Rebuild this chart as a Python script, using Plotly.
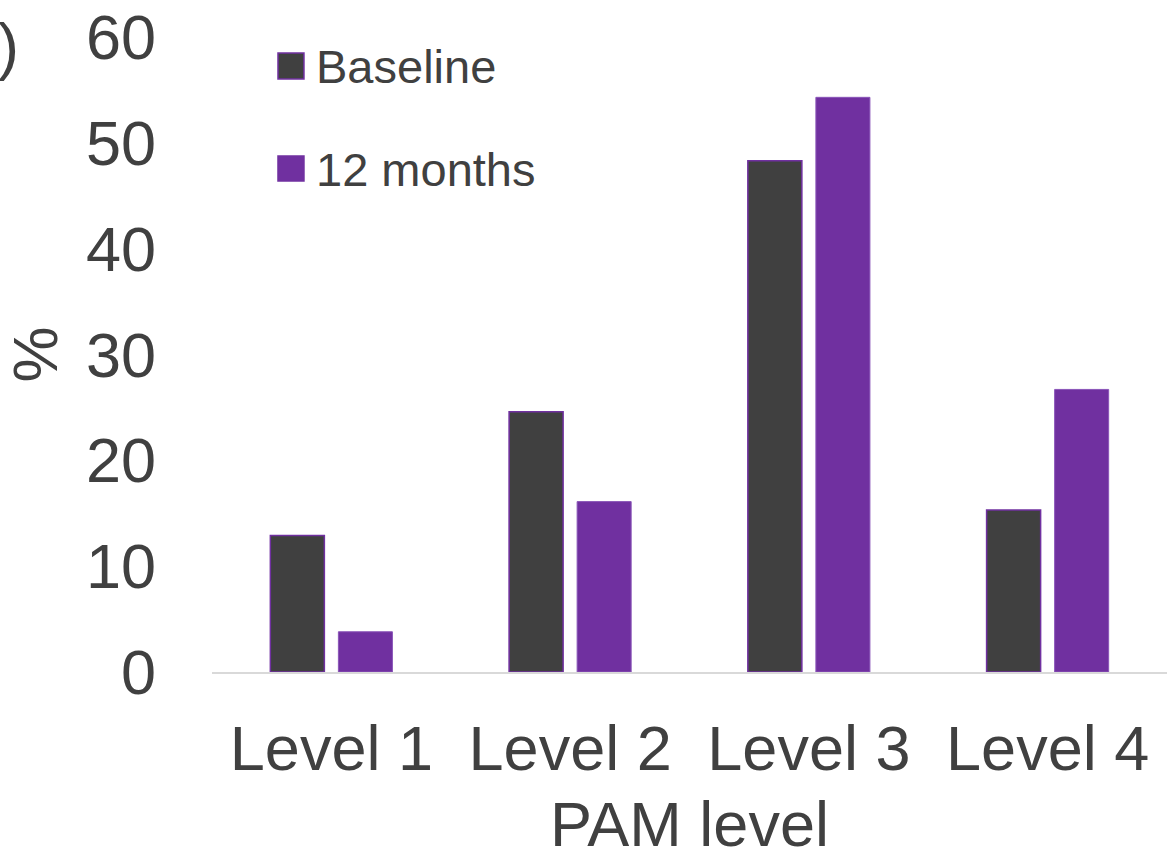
import plotly.graph_objects as go

# PAM level distribution at baseline and at 12 months
levels = ["Level 1", "Level 2", "Level 3", "Level 4"]
baseline = [12.9, 24.6, 48.3, 15.3]
months_12 = [3.8, 16.1, 54.3, 26.7]
series_names = ["Baseline", "12 months"]
y_ticks = [0, 10, 20, 30, 40, 50, 60]

DARK = "#404040"
PURPLE = "#7030A0"
TEXT = "#404040"
FONT = "Liberation Sans, Arial, sans-serif"
BIG = 63

fig = go.Figure()
fig.add_trace(go.Bar(
    x=levels, y=baseline, name=series_names[0],
    marker=dict(color=DARK, line=dict(color=PURPLE, width=1.5)),
    showlegend=False,
))
fig.add_trace(go.Bar(
    x=levels, y=months_12, name=series_names[1],
    marker=dict(color=PURPLE, line=dict(color="#8a55b8", width=1)),
    showlegend=False,
))

# Legend drawn as swatches + labels in the upper-left of the plot area
swatches = [
    (series_names[0], DARK, PURPLE, 0.9339, 0.9748, 0.9543),
    (series_names[1], PURPLE, PURPLE, 0.7732, 0.8126, 0.7921),
]
for label, fill, edge, y0, y1, ym in swatches:
    fig.add_shape(type="rect", xref="paper", yref="paper",
                  x0=0.0691, x1=0.0963, y0=y0, y1=y1,
                  fillcolor=fill, line=dict(color=edge, width=1.5))
    fig.add_annotation(xref="paper", yref="paper", x=0.1068, y=ym,
                       xanchor="left", yanchor="middle", showarrow=False,
                       text=label, font=dict(size=47, color=TEXT, family=FONT))

# Closing bracket of the panel label at the top-left corner
fig.add_annotation(xref="paper", yref="paper", x=-0.2000, y=0.986,
                   xanchor="right", yanchor="middle", showarrow=False,
                   text=")", font=dict(size=BIG, color=TEXT, family=FONT))

# x-axis title, placed close to the bottom edge
fig.add_annotation(xref="paper", yref="paper", x=0.5, y=-0.2394,
                   xanchor="center", yanchor="middle", showarrow=False,
                   text="PAM level", font=dict(size=BIG, color=TEXT, family=FONT))

fig.update_layout(
    width=1171, height=852,
    margin=dict(l=212, r=4, t=37, b=180),
    paper_bgcolor="white", plot_bgcolor="white",
    barmode="group", bargap=0.43, bargroupgap=0.206,
    font=dict(family=FONT, color=TEXT, size=BIG),
    xaxis=dict(
        tickfont=dict(size=BIG, color=TEXT),
        showline=True, linecolor="#D9D9D9", linewidth=2,
        showgrid=False, zeroline=False, ticks="",
        ticklabelstandoff=20, automargin=False,
    ),
    yaxis=dict(
        title=dict(text="%", font=dict(size=BIG, color=TEXT), standoff=12),
        range=[0, 60], tickvals=y_ticks,
        tickfont=dict(size=BIG, color=TEXT),
        showline=False, showgrid=False, zeroline=False, ticks="",
        ticklabelstandoff=55, automargin=False,
    ),
)

fig.write_html("out.html")
